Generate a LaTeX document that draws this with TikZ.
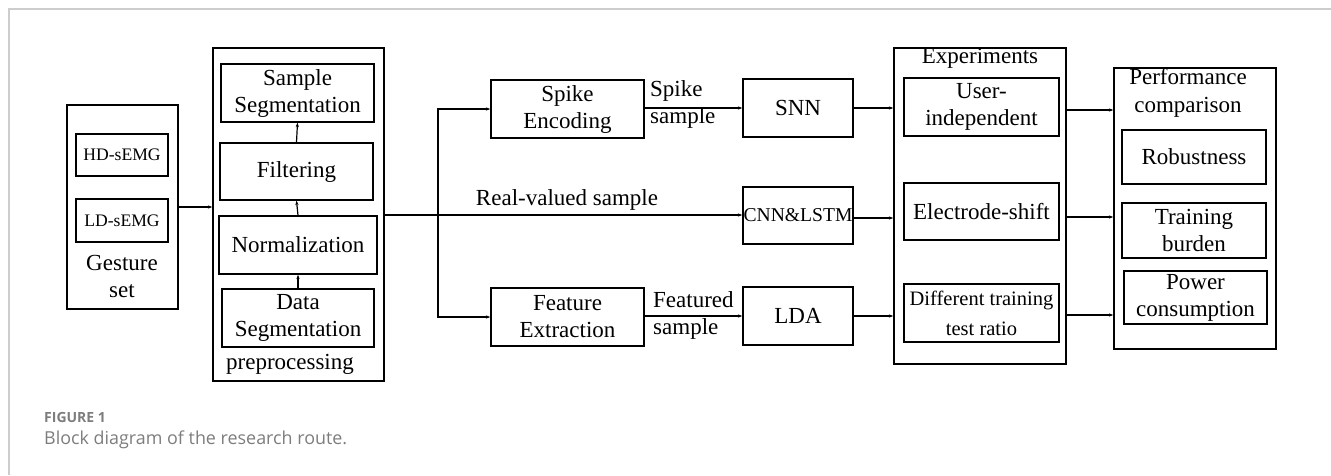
\documentclass[tikz,border=0pt]{standalone}
\usepackage{fontspec}
\setmainfont{Liberation Serif}
\newfontfamily\capfont{Open Sans}
\usetikzlibrary{arrows.meta,positioning}
\definecolor{capgray}{RGB}{125,125,125}
\definecolor{framegray}{RGB}{205,205,205}
\begin{document}
\begin{tikzpicture}[x=1pt,y=-1pt,
  blk/.style={draw=black,line width=1.3pt,inner sep=0pt,align=center,font=\fontsize{23}{27}\selectfont},
  txt/.style={inner sep=0pt,align=center,font=\fontsize{23}{27}\selectfont},
  arr/.style={line width=1.2pt,-{Stealth[length=4.5pt,width=3.2pt]}},
  ln/.style={line width=1.2pt}]
\useasboundingbox (0,0) rectangle (1331,475);
\draw[framegray,line width=1.5pt] (9,475) -- (9,9) -- (1331,9);
\node (g) at (122.5,207) [blk,minimum width=111pt,minimum height=204pt] {};
\node (hd) at (122,155) [blk,minimum width=92pt,minimum height=42pt,font=\fontsize{17.6}{20}\selectfont] {HD-sEMG};
\node (ld) at (122,220.5) [blk,minimum width=92pt,minimum height=43pt,font=\fontsize{17.6}{20}\selectfont] {LD-sEMG};
\node (gl) at (122,276) [txt] {Gesture\\set};
\node (pre) at (298.5,214.5) [blk,minimum width=171pt,minimum height=333pt] {};
\node (ss) at (297.5,93) [blk,minimum width=153pt,minimum height=58pt] {Sample\\Segmentation};
\node (fl) at (296.5,171.5) [blk,minimum width=153pt,minimum height=57pt] {Filtering};
\node (nm) at (298,245) [blk,minimum width=158pt,minimum height=58pt] {Normalization};
\node (ds) at (298,318) [blk,minimum width=152pt,minimum height=58pt] {Data\\Segmentation};
\node (pl) at (290,364) [txt] {preprocessing};
\node (se) at (567.5,109) [blk,minimum width=153pt,minimum height=58pt] {Spike\\Encoding};
\node (snn) at (798,108) [blk,minimum width=110pt,minimum height=58pt] {SNN};
\node (cnn) at (798,215.5) [blk,minimum width=110pt,minimum height=57pt,font=\fontsize{19.6}{22}\selectfont] {CNN\&LSTM};
\node (fe) at (567.5,317) [blk,minimum width=153pt,minimum height=58pt] {Feature\\Extraction};
\node (lda) at (798,316) [blk,minimum width=110pt,minimum height=58pt] {LDA};
\node (ex) at (980,206) [blk,minimum width=172pt,minimum height=316pt] {};
\node (exl) at (980,58) [txt] {Experiments};
\node (ui) at (981.5,107) [blk,minimum width=155pt,minimum height=58pt] {User-\\independent};
\node (es) at (981.5,211.5) [blk,minimum width=155pt,minimum height=57pt] {Electrode-shift};
\node (dt) at (981.5,313) [blk,minimum width=155pt,minimum height=58pt,font=\fontsize{20.5}{30}\selectfont] {Different training\\test ratio};
\node (pc) at (1195,208.5) [blk,minimum width=162pt,minimum height=281pt] {};
\node (pcl) at (1188,93) [txt,font=\fontsize{23}{28}\selectfont] {Performance\\comparison};
\node (rb) at (1194,157) [blk,minimum width=144pt,minimum height=54pt] {Robustness};
\node (tb) at (1194,230.5) [blk,minimum width=144pt,minimum height=55pt] {Training\\burden};
\node (pw) at (1195.5,297.5) [blk,minimum width=143pt,minimum height=53pt] {Power\\consumption};
\coordinate (sp) at (438,215);
\draw[arr] (g.east |- 0,207) -- (pre.west |- 0,207);
\draw[arr] (ds.north) -- (nm.south);
\draw[arr] (nm.north) -- (fl.south);
\draw[arr] (fl.north) -- (ss.south);
\draw[ln] (pre.east |- sp) -- (sp);
\draw[arr] (sp) |- (se.west);
\draw[arr] (sp) |- (fe.west);
\draw[arr] (sp) -- (sp -| cnn.west);
\node (rv) at (567,200) [txt] {Real-valued sample};
\draw[arr] (se.east |- snn) -- (snn.west);
\node (sl) at (650,104.5) [txt,anchor=west,align=left] {Spike\\sample};
\draw[arr] (fe.east |- lda) -- (lda.west);
\node (fl2) at (653,315) [txt,anchor=west,align=left] {Featured\\sample};
\draw[arr] (snn.east) -- (snn.east -| ex.west);
\draw[arr] (cnn.east |- 0,218) -- (ex.west |- 0,218);
\draw[arr] (lda.east) -- (lda.east -| ex.west);
\draw[arr] (ex.east |- 0,110) -- (pc.west |- 0,110);
\draw[arr] (ex.east |- 0,217) -- (pc.west |- 0,217);
\draw[arr] (ex.east |- 0,315) -- (pc.west |- 0,315);
\node (fig) at (44,417) [anchor=west,inner sep=0pt,text=capgray,font=\capfont\bfseries\fontsize{14}{16}\selectfont] {FIGURE 1};
\node (cap) at (44,440) [anchor=west,inner sep=0pt,text=capgray,font=\capfont\fontsize{17.9}{20}\selectfont] {Block diagram of the research route.};
\end{tikzpicture}
\end{document}
